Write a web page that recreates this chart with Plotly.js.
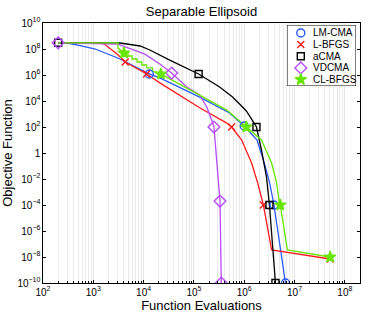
<!DOCTYPE html>
<html>
<head>
<meta charset="utf-8">
<script src="https://cdn.plot.ly/plotly-3.0.1.min.js"></script>
<style>html,body{margin:0;padding:0;background:#fff;}#chart{width:365px;height:314px;}</style>
</head>
<body>
<div id="chart"></div>
<script>
// ---- data (function evaluations vs objective function) ----
var seriesNames = ['LM-CMA', 'L-BFGS', 'aCMA', 'VDCMA', 'CL-BFGS'];

var lmX = [200, 300, 550, 1100, 3400, 13000, 21000, 130000, 510000, 1.0e6, 1.8e6, 2.5e6, 3.2e6, 3.9e6, 6.6e6];
var lmY = [3e8, 2.9e8, 1.8e8, 1e8, 1.7e7, 1.2e6, 6e5, 2e4, 1.2e3, 1.2e2, 10, 0.17, 5e-3, 1e-4, 1e-10];
var lmMX = [13000, 1.0e6, 3.9e6, 6.6e6];
var lmMY = [1.2e6, 1.2e2, 1e-4, 1e-10];

var lbX = [200, 1400, 1650, 3000, 4300, 11500, 21000, 130000, 450000, 560000, 890000, 1.4e6, 1.85e6, 2.3e6, 2.4e6, 3.5e6, 5.1e7];
var lbY = [3e8, 2.9e8, 2.4e8, 4e7, 1e7, 1.2e6, 2.5e5, 3e3, 200, 100, 10, 0.17, 5e-3, 1.4e-4, 1e-4, 3.5e-8, 7e-9];
var lbMX = [4300, 11500, 560000, 2.4e6, 5.1e7];
var lbMY = [1e7, 1.2e6, 100, 1e-4, 7e-9];

var acX = [200, 3400, 8500, 13300, 33000, 124000, 324000, 586000, 807000, 1.1e6, 1.4e6, 1.75e6, 2.2e6, 2.77e6, 3.17e6, 4.17e6];
var acY = [3e8, 2.9e8, 1.7e8, 8.4e7, 1.4e7, 1.2e6, 1.2e5, 2e4, 5.9e3, 1.7e3, 4e2, 100, 1.7, 1.4e-2, 1e-4, 1e-10];
var acMX = [200, 124000, 1.75e6, 3.17e6, 4.17e6];
var acMY = [3e8, 1.2e6, 100, 1e-4, 1e-10];

var vdX = [200, 1400, 3100, 10600, 21000, 36000, 72000, 130000, 180000, 225000, 250000, 330000, 350000];
var vdY = [3e8, 2.8e8, 2.4e8, 4e7, 7e6, 1.4e6, 1.2e5, 2.9e4, 3.5e3, 350, 100, 2e-4, 1e-10];
var vdMX = [200, 36000, 250000, 330000, 350000];
var vdMY = [3e8, 1.4e6, 100, 2e-4, 1e-10];

var clX = [200, 3100, 3100, 4070, 4900, 4900, 5900, 5900, 7400, 7400, 9200, 9200, 11500, 11500, 15000, 15000, 22000, 130000, 450000, 1.1e6, 2.2e6, 3.5e6, 4.4e6, 5.0e6, 5.2e6, 7.2e6, 5.1e7];
var clY = [3e8, 3e8, 1.2e8, 4.9e7, 4.9e7, 2.9e7, 2.9e7, 1.7e7, 1.7e7, 1e7, 1e7, 5.9e6, 5.9e6, 3.5e6, 3.5e6, 2e6, 1.2e6, 2.9e4, 2e3, 100, 10, 0.17, 5e-3, 1.4e-4, 1e-4, 3.5e-8, 1e-8];
var clMX = [4070, 22000, 1.1e6, 5.2e6, 5.1e7];
var clMY = [4.9e7, 1.2e6, 100, 1e-4, 1e-8];

// ---- styles ----
var colors = ['#2a5bff', '#ff1a1a', '#000000', '#b84dff', '#66e600'];
var symbols = ['circle-open', 'x-thin-open', 'square-open', 'diamond-open', 'star'];
var msizes = [8, 7, 7, 9, 8.5];

var lines = [[lmX, lmY], [lbX, lbY], [acX, acY], [vdX, vdY], [clX, clY]];
var marks = [[lmMX, lmMY], [lbMX, lbMY], [acMX, acMY], [vdMX, vdMY], [clMX, clMY]];

var traces = [];
seriesNames.forEach(function (name, i) {
  traces.push({
    type: 'scatter', mode: 'lines', x: lines[i][0], y: lines[i][1],
    line: {color: colors[i], width: 1.3}, showlegend: false, hoverinfo: 'skip'
  });
});
seriesNames.forEach(function (name, i) {
  traces.push({
    type: 'scatter', mode: 'markers', x: marks[i][0], y: marks[i][1], name: name,
    showlegend: false,
    marker: {symbol: symbols[i], size: msizes[i], color: colors[i],
             line: {color: colors[i], width: 1.4}}
  });
});

// ---- compact legend box drawn on its own small subplot (x2/y2) ----
var legSymX = 0.2, legTextX = 0.35, legTop = 0.13, legStep = 0.191;
var annotations = [];
seriesNames.forEach(function (name, i) {
  var yy = 1 - (legTop + i * legStep);
  traces.push({
    type: 'scatter', mode: 'markers', x: [legSymX], y: [yy], xaxis: 'x2', yaxis: 'y2',
    showlegend: false, hoverinfo: 'skip', cliponaxis: false,
    marker: {symbol: symbols[i], size: msizes[i], color: colors[i],
             line: {color: colors[i], width: 1.4}}
  });
  annotations.push({
    xref: 'x2', yref: 'y2', x: legTextX, y: yy, text: name, showarrow: false,
    xanchor: 'left', yanchor: 'middle', font: {size: 10, color: '#000'}
  });
});

var layout = {
  width: 365, height: 314,
  margin: {l: 43, r: 5, t: 23, b: 31, pad: 0},
  paper_bgcolor: '#fff', plot_bgcolor: '#fff',
  font: {family: '"Liberation Sans", Arial, sans-serif', size: 8, color: '#000'},
  title: {text: 'Separable Ellipsoid', font: {size: 13, color: '#000'},
          xref: 'paper', x: 0.5, xanchor: 'center', yref: 'container', y: 0.962, yanchor: 'middle'},
  showlegend: false,
  xaxis: {
    type: 'log', range: [2, 8.301], dtick: 1, exponentformat: 'power',
    showgrid: true, gridcolor: '#e4e4e4', gridwidth: 1,
    ticks: 'inside', ticklen: 3, tickcolor: '#000', tickwidth: 1,
    minor: {showgrid: true, gridcolor: '#ebebeb', gridwidth: 1, ticks: 'inside', ticklen: 2, tickcolor: '#000'},
    showline: true, linecolor: '#000', linewidth: 1, mirror: true, zeroline: false,
    title: {text: 'Function Evaluations', font: {size: 13}, standoff: 3}
  },
  yaxis: {
    type: 'log', range: [-10, 10], tick0: 0, dtick: 2, exponentformat: 'power',
    showgrid: false,
    ticks: 'inside', ticklen: 3, tickcolor: '#000', tickwidth: 1,
    showline: true, linecolor: '#000', linewidth: 1, mirror: 'ticks', zeroline: false,
    title: {text: 'Objective Function', font: {size: 13}, standoff: 4}
  },
  xaxis2: {domain: [0.7697, 0.9874], range: [0, 1], anchor: 'y2', visible: false, fixedrange: true},
  yaxis2: {domain: [0.7577, 0.9923], range: [0, 1], anchor: 'x2', visible: false, fixedrange: true},
  shapes: [{type: 'rect', xref: 'x2', yref: 'y2', x0: 0, x1: 1, y0: 0, y1: 1,
            line: {color: '#000', width: 1}, fillcolor: '#fff', layer: 'below'}],
  annotations: annotations
};

Plotly.newPlot('chart', traces, layout, {staticPlot: true, displayModeBar: false});
</script>
</body>
</html>
